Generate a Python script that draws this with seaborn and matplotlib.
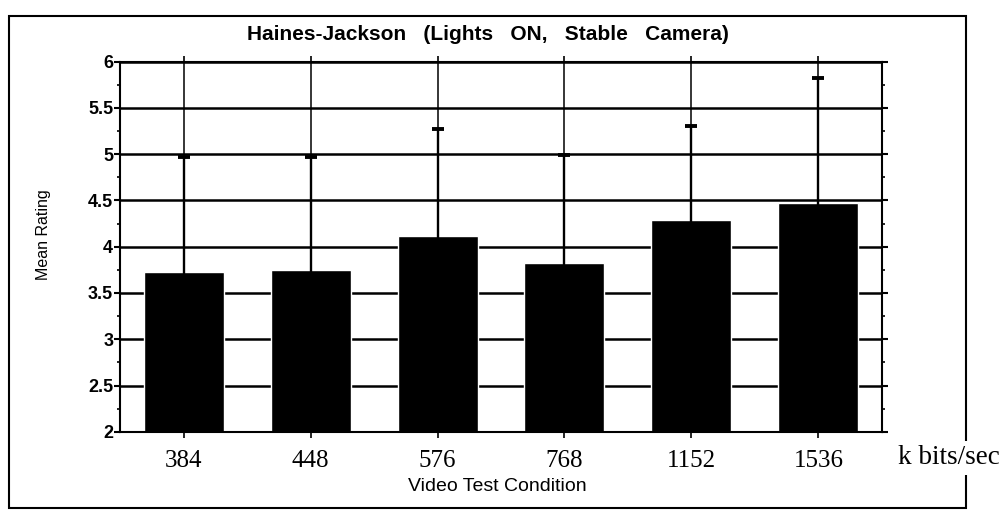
import numpy as np
import pandas as pd
import matplotlib
matplotlib.use("Agg")
import matplotlib.pyplot as plt
from matplotlib.patches import Rectangle
from matplotlib.ticker import MultipleLocator
import seaborn as sns

# ---- values ----
rates = ["384", "448", "576", "768", "1152", "1536"]
mean_rating = [3.73, 3.75, 4.12, 3.82, 4.29, 4.47]
whisker_top = [4.97, 4.97, 5.27, 4.99, 5.30, 5.82]   # upper end of each error bar

title = "Haines-Jackson   (Lights   ON,   Stable   Camera)"
y_ticks = [2, 2.5, 3, 3.5, 4, 4.5, 5, 5.5, 6]
y_tick_labels = ["2", "2.5", "3", "3.5", "4", "4.5", "5", "5.5", "6"]

sns.set_theme(style="white")
plt.rcParams["font.family"] = ["Liberation Sans", "DejaVu Sans"]
plt.rcParams.update({"text.color": "black", "axes.labelcolor": "black",
                     "xtick.color": "black", "ytick.color": "black"})

df = pd.DataFrame({"rate": rates, "mean": mean_rating})

fig = plt.figure(figsize=(10.01, 5.14), dpi=100)
ax = fig.add_axes([0.12, 0.16, 0.761, 0.72])

sns.barplot(data=df, x="rate", y="mean", order=rates, color="black",
            saturation=1, width=0.63, errorbar=None, ax=ax, zorder=2)

# upper-only error bars; the lower end is tucked inside the bar so its cap is hidden
pos = np.arange(len(rates))
up = np.array(whisker_top) - np.array(mean_rating)
down = np.full_like(up, 0.1)
ax.errorbar(pos, mean_rating, yerr=[down, up], fmt="none",
            ecolor="black", elinewidth=1.7, capsize=4.5, capthick=2.8, zorder=3)

ax.set_ylim(2, 6)
ax.set_xlim(-0.5, len(rates) - 0.5)
ax.set_yticks(y_ticks)
ax.set_yticklabels(y_tick_labels, fontweight="bold")
ax.yaxis.set_minor_locator(MultipleLocator(0.25))

ax.set_axisbelow(True)
ax.yaxis.grid(True, color="black", lw=1.8)
ax.xaxis.grid(True, color="black", lw=1.1)

for s in ax.spines.values():
    s.set_visible(True)
    s.set_color("black")
    s.set_linewidth(1.5)

ax.tick_params(axis="y", which="major", left=True, right=True, direction="out",
               length=4, width=1.5, labelsize=13, pad=1)
ax.tick_params(axis="y", which="minor", left=True, right=True, direction="out",
               length=2, width=1.2)
ax.tick_params(axis="x", bottom=True, top=True, direction="out", length=4,
               width=1.2, labelsize=18, pad=9)
for lbl in ax.get_xticklabels():
    lbl.set_fontfamily("Liberation Serif")

ax.set_xlabel("Video Test Condition", fontsize=14)
ax.xaxis.label.set_va("center")
ax.xaxis.set_label_coords(0.495, -0.148)
ax.set_ylabel("Mean Rating", fontsize=11.5)
ax.yaxis.label.set_va("center")
ax.yaxis.set_label_coords(-0.1, 0.532)

fig.text(488 / 1001, 1 - 35 / 514, title, ha="center", va="center",
         fontsize=15, fontweight="bold")

# outer frame of the scanned figure
fig.add_artist(Rectangle((9 / 1001, 1 - 508 / 514), 957 / 1001, 492 / 514,
                         transform=fig.transFigure, fill=False, lw=1.5,
                         ec="black", zorder=1))
fig.text(898 / 1001, 1 - 458 / 514, "k bits/sec", ha="left", va="center",
         fontsize=19.5, family="Liberation Serif", zorder=5,
         bbox=dict(fc="white", ec="none", pad=3))

fig.savefig("out.png", dpi=100)
